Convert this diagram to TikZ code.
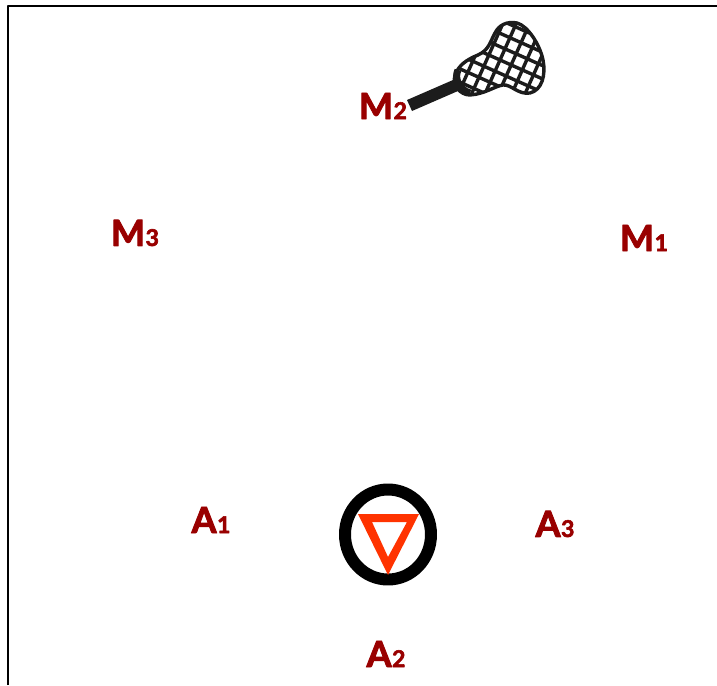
\documentclass[tikz,border=0pt]{standalone}
\usepackage{fontspec}
\usetikzlibrary{shapes.geometric}
\setmainfont{Lato}[BoldFeatures={FakeBold=2.6}]
\definecolor{labelred}{HTML}{990000}
\definecolor{markred}{HTML}{FF3300}
\definecolor{racketblack}{HTML}{1C1C1C}
\tikzset{
	playerlabel/.style={inner sep=0pt,font=\fontsize{36}{36}\selectfont\bfseries,text=labelred},
	racketnet/.style={line width=3.4pt,draw=racketblack}
}
\newcommand{\playertext}[2]{#1\kern0.5pt{\fontsize{23}{23}\selectfont #2}}
\begin{document}
\begin{tikzpicture}[line cap=round,line join=round,x=1pt,y=-1pt]
	\useasboundingbox (0,0) rectangle (717,685);
	
	\draw[line width=2pt,line cap=butt] (8.3,685) -- (8.3,5.7) -- (717,5.7);
	
	\foreach \lname/\lletter/\lnum/\lx/\ly in {M2/M/2/383/106,M3/M/3/135/233,M1/M/1/644/238,A1/A/1/211/520,A3/A/3/555/524,A2/A/2/386/654}{
		\node[playerlabel] (\lname) at (\lx,\ly) {\playertext{\lletter}{\lnum}};
	}
	
	% goal crease
	\node[ellipse,draw=black,line width=12pt,minimum width=86pt,minimum height=90pt,inner sep=0pt,outer sep=0pt] (crease) at (388,534.5) {};
	\fill[markred,even odd rule] (358,514) -- (419,514) -- (388,575) -- cycle
		(372,522) -- (407,522) -- (388,557) -- cycle;
	
	% stick
	\fill[racketblack,line join=miter] (407,100) -- (412,111) -- (458,91) -- (453,80) -- cycle;
	\begin{scope}
		\clip (455,75) .. controls (459,65) and (466,60) .. (478,55) .. controls (489,50) and (490,42) .. (495,33) .. controls (499,25) and (507,21) .. (517,23) .. controls (528,26) and (540,45) .. (543,60) .. controls (546,75) and (542,90) .. (530,93) .. controls (518,95) and (511,84) .. (503,85) .. controls (495,86) and (485,94) .. (470,95) .. controls (460,95) and (452,85) .. (455,75) -- cycle;
		\begin{scope}[rotate around={-24:(500,60)}]
			\foreach \i in {-6,...,6}{
				\draw[racketnet,line cap=butt] (500+12.2*\i,0) -- (500+12.2*\i,120);
				\draw[racketnet,line cap=butt] (420,60+12.2*\i) -- (580,60+12.2*\i);
			}
		\end{scope}
	\end{scope}
	\draw[racketblack,line width=3.4pt] (455,75) .. controls (459,65) and (466,60) .. (478,55) .. controls (489,50) and (490,42) .. (495,33) .. controls (499,25) and (507,21) .. (517,23) .. controls (528,26) and (540,45) .. (543,60) .. controls (546,75) and (542,90) .. (530,93) .. controls (518,95) and (511,84) .. (503,85) .. controls (495,86) and (485,94) .. (470,95) .. controls (460,95) and (452,85) .. (455,75) -- cycle;
	\draw[racketblack,line width=7pt,line cap=butt] (458,70) .. controls (454,78) and (459,90) .. (470,93);
\end{tikzpicture}
\end{document}
